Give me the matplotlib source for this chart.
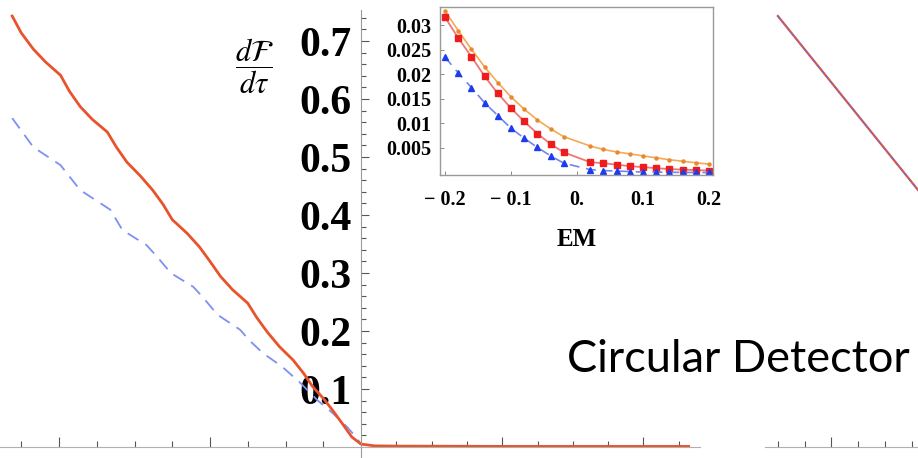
import matplotlib
matplotlib.use("Agg")
import matplotlib.pyplot as plt

# main curves (tau, dF/dtau)
red_x = [-2.31, -2.25, -2.17, -2.09, -1.99, -1.93, -1.86, -1.78, -1.68, -1.62,
         -1.55, -1.46, -1.38, -1.31, -1.25, -1.15, -1.07, -1.00, -0.93, -0.85,
         -0.75, -0.69, -0.62, -0.54, -0.45, -0.38, -0.32, -0.25, -0.19, -0.12,
         -0.06, 0.0, 0.09, 0.26, 1.0, 2.17]
red_y = [0.743, 0.714, 0.686, 0.664, 0.641, 0.613, 0.587, 0.565, 0.543, 0.517,
         0.491, 0.467, 0.443, 0.418, 0.392, 0.368, 0.345, 0.320, 0.294, 0.271,
         0.248, 0.223, 0.198, 0.173, 0.150, 0.127, 0.104, 0.084, 0.064, 0.039,
         0.017, 0.005, 0.002, 0.0015, 0.001, 0.001]
blue_x = [-2.31, -2.17, -2.06, -1.99, -1.86, -1.73, -1.66, -1.58, -1.42, -1.35,
          -1.26, -1.11, -1.05, -0.95, -0.80, -0.74, -0.65, -0.52, -0.40, -0.29,
          -0.19, -0.09, -0.03, 0.0]
blue_y = [0.567, 0.517, 0.498, 0.486, 0.443, 0.421, 0.409, 0.374, 0.348, 0.328,
          0.300, 0.276, 0.259, 0.228, 0.202, 0.184, 0.162, 0.138, 0.110, 0.081,
          0.059, 0.034, 0.016, 0.005]

# inset: EM values (no point at EM = 0)
em = [-0.2, -0.18, -0.16, -0.14, -0.12, -0.1, -0.08, -0.06, -0.04, -0.02,
      0.02, 0.04, 0.06, 0.08, 0.1, 0.12, 0.14, 0.16, 0.18, 0.2]
orange_v = [0.0329, 0.0289, 0.0251, 0.0215, 0.0183, 0.0154, 0.0129, 0.0107, 0.0089, 0.0073,
            0.0054, 0.0047, 0.0042, 0.0038, 0.0034, 0.0030, 0.0026, 0.0023, 0.0020, 0.0017]
red_v = [0.0316, 0.0274, 0.0236, 0.0196, 0.0161, 0.0131, 0.0104, 0.0079, 0.0058, 0.0041,
         0.0021, 0.0019, 0.0016, 0.0013, 0.0011, 0.0009, 0.0007, 0.0006, 0.0005, 0.0004]
blue_v = [0.0235, 0.0203, 0.0173, 0.0142, 0.0116, 0.0090, 0.0070, 0.0051, 0.0034, 0.0019,
          0.0006, 0.0004, 0.0003, 0.0002, 0.0001, 0.0001, 0.00005, 0.00003, 0.00002, 0.00001]

# right hand (cut off) panel
right_x = [1.0, 7.0]
right_y = [0.743, 0.399]

serif_bold = dict(family="Liberation Serif", weight="bold")
plt.rcParams["mathtext.fontset"] = "stix"

fig = plt.figure(figsize=(9.18, 4.58), dpi=100)

# ---- main plot ----
ax = fig.add_axes([0, 0, 1, 1])
ax.set_xlim(-361 / 151, (918 - 361) / 151)
ax.set_ylim(-11 / 580, 447 / 580)
ax.plot(blue_x, blue_y, color="#7f8ff2", lw=1.3, dashes=(7, 4.5))
ax.plot(red_x, red_y, color="#e8532b", lw=2.0, solid_joinstyle="round")

for s in ["top", "right"]:
    ax.spines[s].set_visible(False)
ax.spines["left"].set_position(("data", 0))
ax.spines["bottom"].set_position(("data", 0))
ax.spines["left"].set_color("#9a9a9a")
ax.spines["bottom"].set_color("#b0b0b0")
ax.spines["bottom"].set_bounds(-361 / 151, (700 - 361) / 151)
ax.spines["left"].set_bounds(-11 / 580, 437 / 580)

yt = [0.1, 0.2, 0.3, 0.4, 0.5, 0.6, 0.7]
ax.set_yticks(yt)
ax.set_yticklabels(["0.1", "0.2", "0.3", "0.4", "0.5", "0.6", "0.7"], fontsize=30, **serif_bold)
ax.set_yticks([i * 0.02 for i in range(1, 38)], minor=True)

left_minor = [-0.25 * k for k in range(1, 10)]
right_minor = [0.2338 * k for k in range(1, 10)]
ax.set_xticks([-2, -1, 0.2338 * 4, 0.2338 * 8])
ax.set_xticks(left_minor + right_minor, minor=True)
ax.set_xticklabels([])
ax.tick_params(axis="both", which="both", direction="in", color="#555555", width=0.8)
ax.tick_params(axis="y", which="major", length=6, pad=7)
ax.tick_params(axis="y", which="minor", length=3.5)
ax.tick_params(axis="x", which="major", length=7)
ax.tick_params(axis="x", which="minor", length=4)

fig.text(254 / 918, 1 - 66 / 458, r"$\dfrac{d\mathcal{F}}{d\tau}$", fontsize=22,
         ha="center", va="center")

# the slide cuts the last letter off; keep it just inside the frame here
fig.text(567 / 918, 1 - 372 / 458, "Circular Detector", fontsize=32.5,
         family="Lato", ha="left", va="baseline")

# ---- inset ----
ins = fig.add_axes([440 / 918, 1 - 175 / 458, 273 / 918, 168 / 458])
ins.plot(em, orange_v, color="#f5a857", lw=1.2, marker="o", ms=2.2,
         mfc="#e88a2a", mec="#e88a2a")
ins.plot(em, red_v, color="#f07575", lw=1.3, marker="s", ms=5,
         mfc="#ee1c1c", mec="#ee1c1c")
ins.plot(em, blue_v, color="#6f86f0", lw=1.2, dashes=(6, 4), marker="^", ms=4.5,
         mfc="#1c3cee", mec="#1c3cee")
ins.set_xlim(-0.2076, 0.206)
ins.set_ylim(-0.0005, 0.0337)
ins.set_xticks([-0.2, -0.1, 0, 0.1, 0.2])
ins.set_xticklabels(["\u2212 0.2", "\u2212 0.1", "0.", "0.1", "0.2"], fontsize=14.5, **serif_bold)
ins.set_yticks([0.005, 0.01, 0.015, 0.02, 0.025, 0.03])
ins.set_yticklabels(["0.005", "0.01", "0.015", "0.02", "0.025", "0.03"], fontsize=14.5, **serif_bold)
ins.tick_params(direction="in", length=3, color="#888888", width=0.7)
ins.tick_params(axis="y", pad=6)
ins.tick_params(axis="x", pad=11)
for s in ins.spines.values():
    s.set_color("#999999")
    s.set_linewidth(1.0)
ins.set_xlabel("EM", fontsize=18, labelpad=13, **serif_bold)

# ---- right panel (cut off) ----
ax2 = fig.add_axes([765 / 918, 0, 153 / 918, 1])
ax2.set_xlim(0.52, 6.23)
ax2.set_ylim(-11 / 580, 447 / 580)
ax2.plot(right_x, right_y, color="#e8532b", lw=1.6)
ax2.plot(right_x, right_y, color="#6f6fe0", lw=1.0, dashes=(3, 2))
for s in ["top", "right", "left"]:
    ax2.spines[s].set_visible(False)
ax2.spines["bottom"].set_position(("data", 0))
ax2.spines["bottom"].set_color("#b0b0b0")
ax2.set_yticks([])
ax2.set_xticks([3])
ax2.set_xticks([1, 2, 4, 5, 6], minor=True)
ax2.set_xticklabels([])
ax2.tick_params(axis="x", which="both", direction="in", color="#555555", width=0.8)
ax2.tick_params(axis="x", which="major", length=7)
ax2.tick_params(axis="x", which="minor", length=4)
ax2.patch.set_alpha(0)

fig.savefig("out.png", dpi=100)
